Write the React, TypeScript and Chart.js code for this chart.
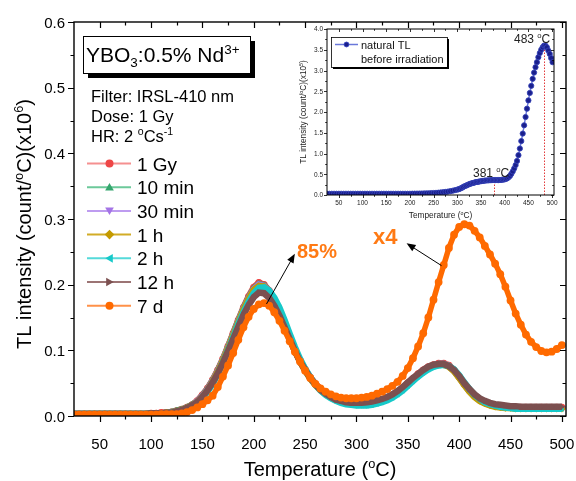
import React, { useEffect, useRef } from "react";
import { Chart, registerables } from "chart.js";
Chart.register(...registerables);

const FONT = '"Liberation Sans", Arial, Helvetica, sans-serif';

// ---------------- main chart data ----------------
const temperature = [25,30,35,40,45,50,55,60,65,70,75,80,85,90,95,100,105,110,115,120,125,130,135,140,145,150,155,160,165,170,175,180,185,190,195,200,205,210,215,220,225,230,235,240,245,250,255,260,265,270,275,280,285,290,295,300,305,310,315,320,325,330,335,340,345,350,355,360,365,370,375,380,385,390,395,400,405,410,415,420,425,430,435,440,445,450,455,460,465,470,475,480,485,490,495,500];

const tl1Gy = [.003,.003,.003,.003,.003,.003,.003,.003,.003,.003,.003,.003,.003,.003,.003,.004,.004,.005,.005,.006,
.008,.010,.013,.017,.023,.032,.042,.055,.070,.087,
.106,.126,.146,.165,.182,.196,.203,.200,.191,.177,
.160,.140,.120,.101,.085,.071,.059,.049,.041,.035,
.030,.026,.023,.021,.020,.019,.019,.019,.020,.022,
.025,.028,.032,.037,.043,.050,.057,.064,.070,.075,
.078,.080,.080,.077,.070,.060,.049,.039,.031,.025,
.021,.018,.016,.015,.014,.014,.013,.013,.013,.013,
.013,.013,.013,.013,.013,.013];

const tl10min = [.003,.003,.003,.003,.003,.003,.003,.003,.003,.003,.003,.003,.003,.003,.003,.004,.004,.004,.005,.006,
.008,.010,.013,.017,.022,.031,.041,.054,.069,.086,
.105,.125,.145,.164,.180,.194,.201,.199,.190,.176,
.159,.139,.119,.100,.084,.070,.058,.048,.040,.034,
.029,.025,.022,.020,.019,.018,.018,.018,.019,.021,
.024,.027,.031,.036,.042,.049,.056,.063,.069,.074,
.077,.079,.079,.076,.069,.059,.048,.038,.030,.024,
.020,.017,.015,.014,.013,.013,.012,.012,.012,.012,
.012,.012,.012,.012,.012,.012];

const tl30min = [.003,.003,.003,.003,.003,.003,.003,.003,.003,.003,.003,.003,.003,.003,.003,.003,.004,.004,.005,.005,
.007,.009,.012,.016,.022,.030,.040,.053,.068,.085,
.104,.124,.144,.163,.179,.193,.200,.198,.190,.176,
.159,.139,.119,.100,.084,.070,.058,.048,.040,.034,
.029,.025,.022,.020,.019,.018,.018,.018,.019,.021,
.024,.027,.031,.036,.042,.049,.056,.063,.069,.074,
.077,.079,.079,.076,.069,.059,.048,.038,.030,.024,
.020,.017,.015,.014,.013,.013,.012,.012,.012,.012,
.012,.012,.012,.012,.012,.012];

const tl1h = [.003,.003,.003,.003,.003,.003,.003,.003,.003,.003,.003,.003,.003,.003,.003,.003,.004,.004,.005,.005,
.007,.009,.012,.016,.021,.029,.039,.052,.067,.084,
.103,.123,.143,.162,.178,.192,.198,.197,.189,.175,
.158,.138,.118,.099,.083,.069,.057,.047,.039,.033,
.028,.024,.021,.019,.018,.017,.017,.017,.018,.020,
.023,.026,.030,.035,.041,.048,.055,.062,.068,.073,
.076,.078,.078,.075,.068,.058,.047,.037,.029,.023,
.019,.016,.014,.013,.012,.012,.011,.011,.011,.011,
.011,.011,.011,.011,.011,.011];

const tl2h = [.003,.003,.003,.003,.003,.003,.003,.003,.003,.003,.003,.003,.003,.003,.003,.003,.003,.004,.004,.005,
.006,.008,.011,.015,.020,.027,.037,.049,.064,.081,
.100,.120,.140,.158,.174,.187,.195,.196,.191,.180,
.165,.146,.125,.105,.087,.072,.059,.048,.039,.032,
.027,.023,.020,.018,.017,.016,.016,.016,.017,.019,
.021,.024,.028,.033,.039,.046,.053,.060,.066,.071,
.075,.077,.078,.076,.071,.062,.051,.041,.032,.026,
.021,.018,.016,.014,.013,.012,.011,.011,.011,.011,
.011,.011,.011,.011,.011,.011];

const tl12h = [.003,.003,.003,.003,.003,.003,.003,.003,.003,.003,.003,.003,.003,.003,.003,.004,.004,.004,.005,.005,
.007,.009,.012,.016,.021,.029,.039,.051,.065,.081,
.099,.117,.136,.154,.169,.181,.188,.187,.180,.168,
.153,.135,.117,.099,.083,.070,.058,.048,.040,.034,
.029,.025,.023,.021,.020,.020,.020,.021,.022,.024,
.026,.029,.033,.038,.044,.051,.058,.064,.070,.075,
.078,.079,.079,.076,.070,.061,.050,.041,.033,.027,
.023,.020,.018,.017,.016,.015,.015,.014,.014,.014,
.014,.014,.014,.014,.014,.014];

const tl7d = [.002,.002,.002,.002,.002,.002,.002,.002,.002,.002,.002,.002,.002,.002,.002,.002,.002,.003,.003,.003,
.003,.004,.006,.009,.013,.018,.024,.031,.044,.060,
.077,.096,.116,.135,.151,.163,.170,.172,.168,.158,
.145,.130,.114,.098,.083,.069,.058,.049,.042,.037,
.033,.030,.028,.027,.027,.027,.028,.029,.031,.034,
.037,.041,.046,.052,.061,.073,.088,.106,.126,.150,
.177,.204,.230,.256,.276,.288,.292,.290,.282,.272,
.259,.246,.232,.216,.197,.176,.156,.139,.124,.113,
.105,.099,.097,.098,.102,.108];

const seriesNames = ["1 Gy", "10 min", "30 min", "1 h", "2 h", "12 h", "7 d"];
const seriesValues = [tl1Gy, tl10min, tl30min, tl1h, tl2h, tl12h, tl7d];
const markerColors = ["#EE4646", "#35A66E", "#A474E6", "#C49A00", "#16C9C9", "#7C5050", "#FF6A00"];
const lineColors = ["#F59090", "#6CC99A", "#BE9CF0", "#D2AC26", "#55DADA", "#9C7474", "#FF9148"];
const markerStyles = ["circle", "triangle", "triangle", "rectRot", "triangle", "triangle", "circle"];
const markerRotations = [0, 0, 180, 0, -90, 90, 0];

const xTicks = [50, 100, 150, 200, 250, 300, 350, 400, 450, 500];
const xMinorTicks = [75, 125, 175, 225, 275, 325, 375, 425, 475];
const yTicks = [0, 0.1, 0.2, 0.3, 0.4, 0.5, 0.6];
const yMinorTicks = [0.05, 0.15, 0.25, 0.35, 0.45, 0.55];

// annotations (data coordinates): arrows [x1,y1,x2,y2], texts [x,y]
const arrow85 = [212.4, 0.1706, 240, 0.247];
const arrowX4 = [382.8, 0.229, 348.8, 0.263];
const text85 = [242, 0.2406];
const textX4 = [316, 0.262];

// ---------------- inset data ----------------
const insetTemperature = [25,30,35,40,45,50,55,60,65,70,75,80,85,90,95,100,105,110,115,120,125,130,135,140,145,150,155,160,165,170,175,180,185,190,195,200,205,210,215,220,225,230,235,240,245,250,255,260,265,270,275,280,285,290,295,300,
303,306,309,312,315,318,321,324,327,330,333,336,339,342,345,348,351,354,357,360,363,366,369,372,375,378,381,384,387,390,393,396,399,402,405,408,411,414,417,420,423,426,429,432,435,438,441,444,447,450,453,456,459,462,465,468,471,474,477,480,483,486,489,492,495,498,501];
const insetTL = [.03,.03,.03,.03,.03,.03,.03,.03,.03,.03,.03,.03,.03,.03,.03,.03,.03,.03,.03,.03,.03,.03,.03,.03,.03,.03,.03,.03,.03,.03,.03,.03,.03,.03,.03,.03,
.032,.033,.034,.035,.036,.038,.04,.042,.045,.048,.052,.056,.061,.067,.074,.082,.092,.103,.116,.13,
.14,.155,.17,.19,.21,.225,.24,.255,.27,.28,
.29,.3,.31,.315,.32,.33,.335,.34,.345,.35,
.35,.355,.355,.36,.36,.36,.36,.36,.36,.36,
.365,.37,.375,.385,.4,.425,.46,.51,.57,.64,
.72,.82,.96,1.12,1.3,1.48,1.68,1.88,2.08,2.28,
2.46,2.63,2.8,2.95,3.08,3.2,3.32,3.42,3.5,3.56,
3.6,3.6,3.56,3.48,3.4,3.3,3.2];
const insetXTicks = [50, 100, 150, 200, 250, 300, 350, 400, 450, 500];
const insetXMinor = [75, 125, 175, 225, 275, 325, 375, 425, 475];
const insetYTicks = [0, 0.5, 1, 1.5, 2, 2.5, 3, 3.5, 4];
const insetYMinor = [0.25, 0.75, 1.25, 1.75, 2.25, 2.75, 3.25, 3.75];
const insetPeaks = [377, 483];
const insetPeakLabels = ["381 ", "483 "];
const insetPeakHeights = [0.28, 3.6];

// ---------------- helpers ----------------
type Seg = { t: string; s?: "sup" | "sub" };

function richText(ctx: CanvasRenderingContext2D, segs: Seg[], x: number, y: number, size: number, align = "left", weight = "") {
  const small = size * 0.64;
  const f = (s: number) => `${weight}${s}px ${FONT}`;
  let total = 0;
  for (const g of segs) {
    ctx.font = f(g.s ? small : size);
    total += ctx.measureText(g.t).width;
  }
  let cx = align === "center" ? x - total / 2 : align === "right" ? x - total : x;
  ctx.textAlign = "left";
  ctx.textBaseline = "alphabetic";
  for (const g of segs) {
    ctx.font = f(g.s ? small : size);
    const dy = g.s === "sup" ? -size * 0.4 : g.s === "sub" ? size * 0.22 : 0;
    ctx.fillText(g.t, cx, y + dy);
    cx += ctx.measureText(g.t).width;
  }
}

function drawMarker(ctx: CanvasRenderingContext2D, style: string, rot: number, x: number, y: number, r: number, color: string) {
  ctx.save();
  ctx.fillStyle = color;
  ctx.translate(x, y);
  ctx.rotate((rot * Math.PI) / 180);
  ctx.beginPath();
  if (style === "circle") {
    ctx.arc(0, 0, r, 0, Math.PI * 2);
  } else if (style === "triangle") {
    const R = r * 1.25;
    for (let k = 0; k < 3; k++) {
      const a = -Math.PI / 2 + (k * 2 * Math.PI) / 3;
      const px = Math.cos(a) * R, py = Math.sin(a) * R + r * 0.2;
      if (k === 0) ctx.moveTo(px, py); else ctx.lineTo(px, py);
    }
    ctx.closePath();
  } else {
    const R = r * 1.2;
    ctx.moveTo(0, -R); ctx.lineTo(R, 0); ctx.lineTo(0, R); ctx.lineTo(-R, 0); ctx.closePath();
  }
  ctx.fill();
  ctx.restore();
}

function drawArrow(ctx: CanvasRenderingContext2D, x1: number, y1: number, x2: number, y2: number) {
  const ang = Math.atan2(y2 - y1, x2 - x1);
  const hl = 9, hw = 3.6;
  ctx.save();
  ctx.strokeStyle = "#000";
  ctx.fillStyle = "#000";
  ctx.lineWidth = 1;
  ctx.beginPath();
  ctx.moveTo(x1, y1);
  ctx.lineTo(x2 - Math.cos(ang) * hl * 0.8, y2 - Math.sin(ang) * hl * 0.8);
  ctx.stroke();
  ctx.beginPath();
  ctx.moveTo(x2, y2);
  ctx.lineTo(x2 - Math.cos(ang) * hl - Math.sin(ang) * hw, y2 - Math.sin(ang) * hl + Math.cos(ang) * hw);
  ctx.lineTo(x2 - Math.cos(ang) * hl + Math.sin(ang) * hw, y2 - Math.sin(ang) * hl - Math.cos(ang) * hw);
  ctx.closePath();
  ctx.fill();
  ctx.restore();
}

type FrameCfg = {
  lw: number; tlw: number; major: number; minor: number;
  xMajor: number[]; xMinor: number[]; yMajor: number[]; yMinor: number[];
};

function drawFrame(chart: any, c: FrameCfg) {
  const { ctx, chartArea: a } = chart;
  const xs = chart.scales.x, ys = chart.scales.y;
  ctx.save();
  ctx.strokeStyle = "#000";
  ctx.lineWidth = c.tlw;
  ctx.beginPath();
  const xt = (vals: number[], len: number) => {
    for (const v of vals) {
      const px = Math.round(xs.getPixelForValue(v)) + 0.5;
      ctx.moveTo(px, a.bottom); ctx.lineTo(px, a.bottom + len);
      ctx.moveTo(px, a.top); ctx.lineTo(px, a.top + len);
    }
  };
  const yt = (vals: number[], len: number) => {
    for (const v of vals) {
      const py = Math.round(ys.getPixelForValue(v)) + 0.5;
      ctx.moveTo(a.left, py); ctx.lineTo(a.left - len, py);
      ctx.moveTo(a.right, py); ctx.lineTo(a.right - len, py);
    }
  };
  xt(c.xMajor, c.major); xt(c.xMinor, c.minor);
  yt(c.yMajor, c.major); yt(c.yMinor, c.minor);
  ctx.stroke();
  ctx.lineWidth = c.lw;
  ctx.strokeRect(a.left, a.top, a.right - a.left, a.bottom - a.top);
  ctx.restore();
}

const mainDeco = {
  id: "mainDeco",
  afterDraw(chart: any) {
    const { ctx, chartArea: a } = chart;
    const xs = chart.scales.x, ys = chart.scales.y;
    drawFrame(chart, { lw: 1.4, tlw: 1.2, major: 6, minor: 3.5, xMajor: xTicks, xMinor: xMinorTicks, yMajor: yTicks, yMinor: yMinorTicks });
    ctx.save();
    ctx.fillStyle = "#000";
    // tick labels
    ctx.font = `15px ${FONT}`;
    ctx.textAlign = "center";
    ctx.textBaseline = "alphabetic";
    for (const v of xTicks) ctx.fillText(String(v), xs.getPixelForValue(v), a.bottom + 33);
    ctx.textAlign = "right";
    for (const v of yTicks) ctx.fillText(v.toFixed(1), a.left - 9, ys.getPixelForValue(v) + 5.5);
    // axis titles
    richText(ctx, [{ t: "Temperature (" }, { t: "o", s: "sup" }, { t: "C)" }], (a.left + a.right) / 2, 476, 20, "center");
    ctx.save();
    ctx.translate(31, 224);
    ctx.rotate(-Math.PI / 2);
    richText(ctx, [{ t: "TL intensity (count/" }, { t: "o", s: "sup" }, { t: "C)(x10" }, { t: "6", s: "sup" }, { t: ")" }], 0, 0, 20, "center");
    ctx.restore();

    // sample title box
    ctx.fillStyle = "#000";
    ctx.fillRect(88, 41, 167, 37);
    ctx.fillStyle = "#fff";
    ctx.fillRect(83, 36, 167, 37);
    ctx.strokeStyle = "#000";
    ctx.lineWidth = 1;
    ctx.strokeRect(83.5, 36.5, 167, 37);
    ctx.fillStyle = "#000";
    richText(ctx, [{ t: "YBO" }, { t: "3", s: "sub" }, { t: ":0.5% Nd" }, { t: "3+", s: "sup" }], 86, 62, 21);

    // info text
    richText(ctx, [{ t: "Filter: IRSL-410 nm" }], 91, 102, 16.5);
    richText(ctx, [{ t: "Dose: 1 Gy" }], 91, 122, 16.5);
    richText(ctx, [{ t: "HR: 2 " }, { t: "o", s: "sup" }, { t: "Cs" }, { t: "-1", s: "sup" }], 91, 142, 16.5);

    // legend
    for (let i = 0; i < seriesNames.length; i++) {
      const cy = 163.5 + i * 23.7;
      ctx.strokeStyle = lineColors[i];
      ctx.lineWidth = 2;
      ctx.beginPath();
      ctx.moveTo(87, cy); ctx.lineTo(131, cy);
      ctx.stroke();
      drawMarker(ctx, markerStyles[i], markerRotations[i], 109.5, cy, 4, markerColors[i]);
      ctx.fillStyle = "#000";
      richText(ctx, [{ t: seriesNames[i] }], 137, cy + 7, 19);
    }

    // annotations
    drawArrow(ctx, xs.getPixelForValue(arrow85[0]), ys.getPixelForValue(arrow85[1]), xs.getPixelForValue(arrow85[2]), ys.getPixelForValue(arrow85[3]));
    drawArrow(ctx, xs.getPixelForValue(arrowX4[0]), ys.getPixelForValue(arrowX4[1]), xs.getPixelForValue(arrowX4[2]), ys.getPixelForValue(arrowX4[3]));
    ctx.fillStyle = "#FF7A14";
    richText(ctx, [{ t: "85%" }], xs.getPixelForValue(text85[0]), ys.getPixelForValue(text85[1]), 20, "left", "bold ");
    richText(ctx, [{ t: "x4" }], xs.getPixelForValue(textX4[0]), ys.getPixelForValue(textX4[1]), 22, "left", "bold ");
    ctx.restore();
  },
};

const insetDeco = {
  id: "insetDeco",
  beforeDatasetsDraw(chart: any) {
    const { ctx } = chart;
    const xs = chart.scales.x, ys = chart.scales.y;
    ctx.save();
    ctx.strokeStyle = "#E23A3A";
    ctx.lineWidth = 1;
    ctx.setLineDash([1.5, 1.5]);
    for (let i = 0; i < insetPeaks.length; i++) {
      const px = Math.round(xs.getPixelForValue(insetPeaks[i])) + 0.5;
      ctx.beginPath();
      ctx.moveTo(px, ys.getPixelForValue(0));
      ctx.lineTo(px, ys.getPixelForValue(insetPeakHeights[i]));
      ctx.stroke();
    }
    ctx.restore();
  },
  afterDraw(chart: any) {
    const { ctx, chartArea: a } = chart;
    const xs = chart.scales.x, ys = chart.scales.y;
    drawFrame(chart, { lw: 1, tlw: 0.8, major: 3, minor: 1.8, xMajor: insetXTicks, xMinor: insetXMinor, yMajor: insetYTicks, yMinor: insetYMinor });
    ctx.save();
    ctx.fillStyle = "#222";
    ctx.font = `6.5px ${FONT}`;
    ctx.textAlign = "center";
    for (const v of insetXTicks) ctx.fillText(String(v), xs.getPixelForValue(v), a.bottom + 10);
    ctx.textAlign = "right";
    for (const v of insetYTicks) ctx.fillText(v.toFixed(1), a.left - 4, ys.getPixelForValue(v) + 2.3);
    richText(ctx, [{ t: "Temperature (" }, { t: "o", s: "sup" }, { t: "C)" }], (a.left + a.right) / 2, a.bottom + 23, 8.3, "center");
    ctx.save();
    ctx.translate(a.left - 21, (a.top + a.bottom) / 2);
    ctx.rotate(-Math.PI / 2);
    richText(ctx, [{ t: "TL intensity (count/" }, { t: "o", s: "sup" }, { t: "C)(x10" }, { t: "5", s: "sup" }, { t: ")" }], 0, 0, 8.3, "center");
    ctx.restore();

    // legend box
    ctx.fillStyle = "#000";
    ctx.fillRect(333, 39, 116, 30);
    ctx.fillStyle = "#fff";
    ctx.fillRect(331, 37, 116, 30);
    ctx.strokeStyle = "#000";
    ctx.lineWidth = 0.8;
    ctx.strokeRect(331.5, 37.5, 116, 30);
    ctx.strokeStyle = "#6A78DA";
    ctx.lineWidth = 1.5;
    ctx.beginPath();
    ctx.moveTo(335, 44.5); ctx.lineTo(358, 44.5);
    ctx.stroke();
    ctx.fillStyle = "#1A1F8C";
    ctx.strokeStyle = "#3846C0";
    ctx.lineWidth = 1;
    ctx.beginPath();
    ctx.arc(346.5, 44.5, 2.4, 0, Math.PI * 2);
    ctx.fill();
    ctx.stroke();
    ctx.fillStyle = "#111";
    richText(ctx, [{ t: "natural TL" }], 361, 48.5, 11);
    richText(ctx, [{ t: "before irradiation" }], 361, 63, 11);

    // peak labels
    ctx.fillStyle = "#222";
    richText(ctx, [{ t: insetPeakLabels[0] }, { t: "o", s: "sup" }, { t: "C" }], 473, 177, 12);
    richText(ctx, [{ t: insetPeakLabels[1] }, { t: "o", s: "sup" }, { t: "C" }], 514, 43, 12);
    ctx.restore();
  },
};

export default function App() {
  const mainRef = useRef<HTMLCanvasElement>(null);
  const insetRef = useRef<HTMLCanvasElement>(null);

  useEffect(() => {
    const datasets = seriesNames.map((name, i) => ({
      label: name,
      data: temperature.map((t, j) => ({ x: t, y: seriesValues[i][j] })),
      borderColor: markerColors[i],
      backgroundColor: markerColors[i],
      borderWidth: i === 6 ? 5.5 : 6.5,
      pointRadius: i === 6 ? 3.9 : 3.6,
      pointBorderWidth: 0,
      pointStyle: markerStyles[i] as any,
      rotation: markerRotations[i],
      pointBackgroundColor: markerColors[i],
      tension: 0,
      order: -i,
    }));
    const main = new Chart(mainRef.current!, {
      type: "line",
      data: { datasets },
      options: {
        responsive: false,
        animation: false,
        devicePixelRatio: 1,
        events: [],
        layout: { padding: { left: 74, right: 10, top: 22, bottom: 65 } },
        plugins: { legend: { display: false }, tooltip: { enabled: false } },
        scales: {
          x: { type: "linear", min: 25, max: 504, display: false },
          y: { type: "linear", min: 0, max: 0.6, display: false },
        },
      },
      plugins: [mainDeco],
    });

    const inset = new Chart(insetRef.current!, {
      type: "line",
      data: {
        datasets: [
          {
            label: "natural TL before irradiation",
            data: insetTemperature.map((t, j) => ({ x: t, y: insetTL[j] })),
            borderColor: "#6A78DA",
            borderWidth: 1.4,
            pointRadius: 2.6,
            pointBorderWidth: 0.9,
            pointBackgroundColor: "#1A1F8C",
            pointBorderColor: "#3543B8",
            tension: 0,
          },
        ],
      },
      options: {
        responsive: false,
        animation: false,
        devicePixelRatio: 1,
        events: [],
        layout: { padding: { left: 327, right: 22, top: 29, bottom: 286 } },
        plugins: { legend: { display: false }, tooltip: { enabled: false } },
        scales: {
          x: { type: "linear", min: 25, max: 504, display: false },
          y: { type: "linear", min: 0, max: 4, display: false },
        },
      },
      plugins: [insetDeco],
    });

    return () => {
      main.destroy();
      inset.destroy();
    };
  }, []);

  return (
    <div style={{ position: "fixed", left: 0, top: 0, width: 576, height: 481, background: "#fff" }}>
      <canvas ref={mainRef} width={576} height={481} style={{ position: "absolute", left: 0, top: 0, width: 576, height: 481 }} />
      <canvas ref={insetRef} width={576} height={481} style={{ position: "absolute", left: 0, top: 0, width: 576, height: 481, pointerEvents: "none" }} />
    </div>
  );
}
